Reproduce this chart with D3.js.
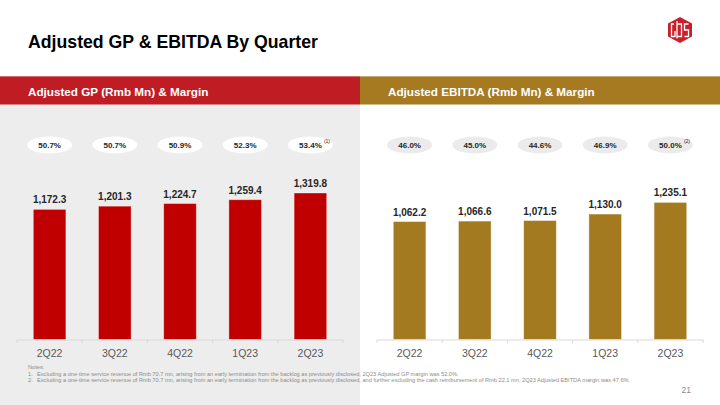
<!DOCTYPE html>
<html>
<head>
<meta charset="utf-8">
<script src="https://cdn.jsdelivr.net/npm/d3@7"></script>
<style>
    body { margin: 0; background: #fff; }
    svg { display: block; font-family: "Liberation Sans", Arial, sans-serif; }
</style>
</head>
<body>
<div id="slide"></div>
<script>

// quarters shown on both charts
let quarters = ["2Q22", "3Q22", "4Q22", "1Q23", "2Q23"];

// adjusted gross profit (Rmb Mn) and margin
let gpValues = [1172.3, 1201.3, 1224.7, 1259.4, 1319.8];
let gpMargins = ["50.7%", "50.7%", "50.9%", "52.3%", "53.4%"];

// adjusted EBITDA (Rmb Mn) and margin
let ebitdaValues = [1062.2, 1066.6, 1071.5, 1130.0, 1235.1];
let ebitdaMargins = ["46.0%", "45.0%", "44.6%", "46.9%", "50.0%"];

let notes = [
    "Excluding a one-time service revenue of Rmb 70.7 mn, arising from an early termination from the backlog as previously disclosed, 2Q23 Adjusted GP margin was 52.0%.",
    "Excluding a one-time service revenue of Rmb 70.7 mn, arising from an early termination from the backlog as previously disclosed, and further excluding the cash reimbursement of Rmb 22.1 mn, 2Q23 Adjusted EBITDA margin was 47.6%."
];

let width = 720, height = 405;

let svg = d3.select("#slide").append("svg")
    .attr("width", width)
    .attr("height", height);

// backgrounds
svg.append("rect").attr("x", 0).attr("y", 0).attr("width", width).attr("height", height).attr("fill", "#ffffff");
svg.append("rect").attr("x", 0).attr("y", 104).attr("width", 360).attr("height", height - 104).attr("fill", "#ededed");

// title
svg.append("text")
    .attr("x", 28).attr("y", 48)
    .attr("font-size", 17.7)
    .attr("font-weight", "bold")
    .attr("fill", "#000")
    .text("Adjusted GP & EBITDA By Quarter");

// logo (rough hexagon mark)
let logo = svg.append("g").attr("transform", "translate(680,30)");
logo.append("path")
    .attr("d", "M0,-13 L12,-6.5 L12,6.5 L0,13 L-12,6.5 L-12,-6.5 Z")
    .attr("fill", "#c8202a");
logo.append("path")
    .attr("d", "M-6,-6 L-8.5,-6 L-8.5,6.5 L-5,6.5 L-5,1 " +
               "M-3,-9 L-3,8.5 M-3,-6 L1.5,-6 L1.5,6.5 L-3,6.5 " +
               "M8.5,-6 L4.5,-6 L4.5,0 L8.5,0 L8.5,6.5 L4.5,6.5")
    .attr("fill", "none")
    .attr("stroke", "#fff")
    .attr("stroke-width", 1.3);

// page number
svg.append("text")
    .attr("x", 691).attr("y", 393)
    .attr("text-anchor", "end")
    .attr("font-size", 8.5)
    .attr("fill", "#8c8c8c")
    .text("21");

function drawPanel(offsetX, title, bandColor, barColor, values, margins, footnote, pillColor){

    // header band
    svg.append("rect")
        .attr("x", offsetX).attr("y", 76)
        .attr("width", 360).attr("height", 28.5)
        .attr("fill", bandColor);
    svg.append("rect")
        .attr("x", offsetX).attr("y", 76)
        .attr("width", 360).attr("height", 1)
        .attr("fill", "#ffffff").attr("opacity", 0.35);
    svg.append("text")
        .attr("x", offsetX + 28).attr("y", 95.5)
        .attr("font-size", 11.7)
        .attr("font-weight", "bold")
        .attr("fill", "#fff")
        .text(title);

    // scales
    let x = d3.scaleBand()
        .domain(quarters)
        .range([offsetX + 17, offsetX + 343])
        .paddingInner(0.5)
        .paddingOuter(0.25);

    let y = d3.scaleLinear()
        .domain([0, 3000])
        .range([339.5, 6.5]);

    let g = svg.append("g");

    // bars
    g.selectAll(".bar")
        .data(values)
        .enter()
        .append("rect")
        .attr("class", "bar")
        .attr("x", (d, i) => x(quarters[i]))
        .attr("y", d => y(d))
        .attr("width", x.bandwidth())
        .attr("height", d => y(0) - y(d))
        .attr("fill", barColor)
        .attr("stroke", "#ffffff")
        .attr("stroke-opacity", 0.45)
        .attr("stroke-width", 0.8);

    // value labels
    g.selectAll(".val")
        .data(values)
        .enter()
        .append("text")
        .attr("class", "val")
        .attr("x", (d, i) => x(quarters[i]) + x.bandwidth() / 2)
        .attr("y", d => y(d) - 6)
        .attr("text-anchor", "middle")
        .attr("font-size", 10)
        .attr("font-weight", "bold")
        .attr("fill", "#262626")
        .text(d => d3.format(",.1f")(d));

    // margin pills
    let pill = g.selectAll(".pill")
        .data(margins)
        .enter()
        .append("g")
        .attr("class", "pill")
        .attr("transform", (d, i) => `translate(${x(quarters[i]) + x.bandwidth() / 2}, 145)`);

    pill.append("ellipse")
        .attr("rx", 22.5)
        .attr("ry", 8.5)
        .attr("fill", pillColor);

    pill.append("text")
        .attr("y", 3)
        .attr("text-anchor", "middle")
        .attr("font-size", 8)
        .attr("font-weight", "bold")
        .attr("fill", "#262626")
        .text(d => d);

    // footnote marker on last margin
    pill.filter((d, i) => i === margins.length - 1)
        .append("text")
        .attr("x", 13.5).attr("y", -2)
        .attr("font-size", 5)
        .attr("fill", "#262626")
        .text(footnote);

    // x axis
    let axis = g.append("g")
        .attr("transform", "translate(0,339.5)")
        .call(d3.axisBottom(x).tickSize(0).tickPadding(10));
    axis.select(".domain").attr("stroke", "#d9d9d9").attr("stroke-width", 1.2);
    axis.selectAll("text")
        .attr("font-size", 10.5)
        .attr("fill", "#595959")
        .attr("font-family", "Liberation Sans, Arial, sans-serif");

    // category separators
    g.selectAll(".sep")
        .data(d3.range(quarters.length + 1))
        .enter()
        .append("line")
        .attr("class", "sep")
        .attr("x1", i => offsetX + 17 + i * x.step())
        .attr("x2", i => offsetX + 17 + i * x.step())
        .attr("y1", 339.5).attr("y2", 343)
        .attr("stroke", "#d9d9d9")
        .attr("stroke-width", 1);
}

drawPanel(0, "Adjusted GP (Rmb Mn) & Margin", "#c01c24", "#c00000", gpValues, gpMargins, "(1)", "#ffffff");
drawPanel(360, "Adjusted EBITDA (Rmb Mn) & Margin", "#a57a21", "#a37a20", ebitdaValues, ebitdaMargins, "(2)", "#ebebeb");

// notes
let notesG = svg.append("g").attr("fill", "#8c8c8c").attr("font-size", 5.65);
notesG.append("text").attr("x", 28).attr("y", 369).text("Notes:");
notes.forEach((n, i) => {
    notesG.append("text").attr("x", 28).attr("y", 375.5 + i * 6).text((i + 1) + ".");
    notesG.append("text").attr("x", 37).attr("y", 375.5 + i * 6).text(n);
});

</script>
</body>
</html>
